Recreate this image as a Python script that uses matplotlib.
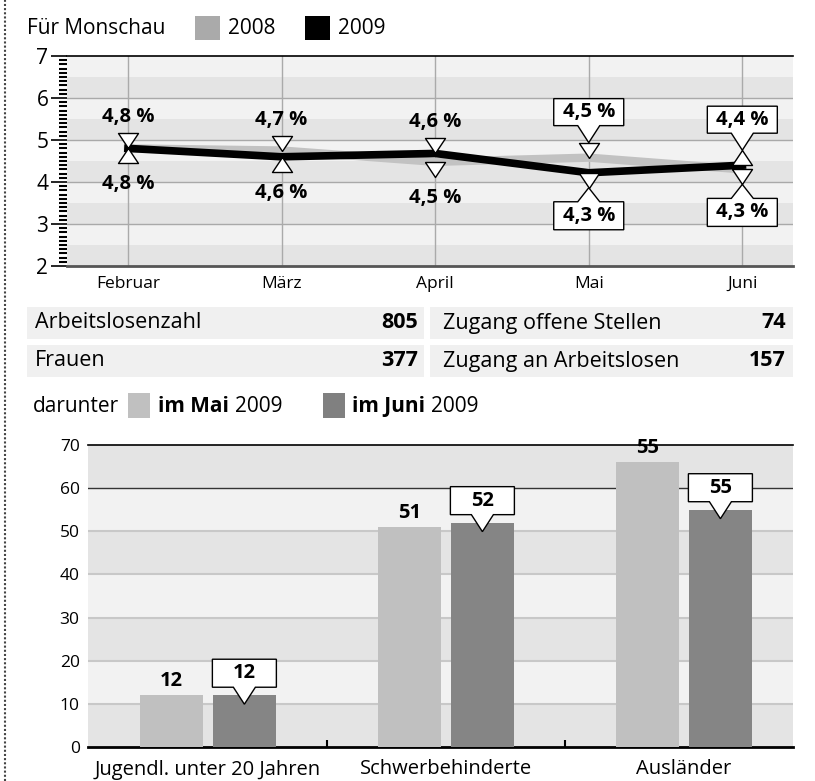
import numpy as np
import matplotlib.pyplot as plt
import matplotlib.transforms as mtransforms
from matplotlib.patches import Rectangle, Polygon
from matplotlib.lines import Line2D
from matplotlib.ticker import MultipleLocator

plt.rcParams['font.family'] = ['Open Sans', 'DejaVu Sans']

# --- data ---
months = ['Februar', 'März', 'April', 'Mai', 'Juni']
rate_2008 = [4.8, 4.75, 4.48, 4.58, 4.3]
rate_2009 = [4.8, 4.6, 4.68, 4.22, 4.4]
upper_labels = ['4,8 %', '4,7 %', '4,6 %', '4,5 %', '4,4 %']
lower_labels = ['4,8 %', '4,6 %', '4,5 %', '4,3 %', '4,3 %']
upper_shape = ['down', 'down', 'down', 'down', 'up']
lower_shape = ['up', 'up', 'down', 'down', 'down']
boxed = [False, False, False, True, True]

table_left = [('Arbeitslosenzahl', '805'), ('Frauen', '377')]
table_right = [('Zugang offene Stellen', '74'), ('Zugang an Arbeitslosen', '157')]

groups = ['Jugendl. unter 20 Jahren', 'Schwerbehinderte', 'Ausländer']
count_mai = [12, 51, 66]
count_juni = [12, 52, 55]
labels_mai = ['12', '51', '55']
labels_juni = ['12', '52', '55']

W, H = 815, 781
fig = plt.figure(figsize=(W / 100, H / 100), dpi=100)
renderer = fig.canvas.get_renderer()


def fx(x):
    return x / W


def fy(y):
    return 1 - y / H


def fbox(x0, y0, x1, y1, color):
    fig.add_artist(Rectangle((fx(x0), fy(y1)), (x1 - x0) / W, (y1 - y0) / H,
                             color=color, transform=fig.transFigure, lw=0))


def callout(ax, x, y, text, w, h, gap, tip, above=True, fs=14.5):
    s = 1 if above else -1
    e = gap * s
    f = (gap + h) * s
    verts = [(-w / 2, e), (-11, e), (0, tip * s), (11, e), (w / 2, e), (w / 2, f), (-w / 2, f)]
    tr = mtransforms.Affine2D() + mtransforms.ScaledTranslation(x, y, ax.transData)
    ax.add_patch(Polygon(verts, closed=True, fc='white', ec='black', lw=1,
                         transform=tr, zorder=6, clip_on=False))
    ax.annotate(text, (x, y), xytext=(0, (gap + h / 2) * s), textcoords='offset pixels',
                ha='center', va='center', fontsize=fs, fontweight='bold', zorder=7)


# dotted border on the left
fig.add_artist(Line2D([fx(5), fx(5)], [0, 1], ls=(0, (1, 1)), lw=1.5, color='#444444',
                      transform=fig.transFigure))

# top legend
fig.text(fx(27), fy(28), 'Für Monschau', va='center', fontsize=15)
fbox(195, 16, 220, 40, '#aaaaaa')
fig.text(fx(228), fy(28), '2008', va='center', fontsize=15)
fbox(305, 16, 330, 40, '#000000')
fig.text(fx(338), fy(28), '2009', va='center', fontsize=15)

# --- line chart ---
ax1 = fig.add_axes([fx(67), fy(266), (793 - 67) / W, (266 - 56) / H])
x = np.arange(len(months))
ax1.set_xlim(-0.397, 4.33)
ax1.set_ylim(2, 7)
for i, lo in enumerate(np.arange(2, 7, 0.5)):
    ax1.axhspan(lo, lo + 0.5, color='#e4e4e4' if i % 2 == 0 else '#f2f2f2', lw=0, zorder=0)
for v in range(3, 7):
    ax1.axhline(v, color='#a9a9a9', lw=1, zorder=1)
for xi in x:
    ax1.axvline(xi, color='#aaaaaa', lw=1, zorder=1)

ax1.plot(x, rate_2008, color='#c2c2c2', lw=6, zorder=2, solid_joinstyle='miter')
ax1.plot(x, rate_2009, color='black', lw=5.5, zorder=3, solid_joinstyle='miter')

tri = {
    ('upper', 'down'): [(0, 0), (-10, 15), (10, 15), (0, 0)],
    ('upper', 'up'): [(-10, 0), (10, 0), (0, 15), (-10, 0)],
    ('lower', 'up'): [(0, 0), (-10, -15), (10, -15), (0, 0)],
    ('lower', 'down'): [(-10, 0), (10, 0), (0, -15), (-10, 0)],
}
for i in range(len(months)):
    hi = max(rate_2008[i], rate_2009[i])
    lo = min(rate_2008[i], rate_2009[i])
    ax1.plot(x[i], hi, marker=tri[('upper', upper_shape[i])], ms=21.6, mfc='white',
             mec='black', mew=1, zorder=5, clip_on=False)
    ax1.plot(x[i], lo, marker=tri[('lower', lower_shape[i])], ms=21.6, mfc='white',
             mec='black', mew=1, zorder=5, clip_on=False)
    if boxed[i]:
        callout(ax1, x[i], hi, upper_labels[i], 70, 27, 32, 15, above=True)
        callout(ax1, x[i], lo, lower_labels[i], 70, 28, 29, 15, above=False)
    else:
        ax1.annotate(upper_labels[i], (x[i], hi), xytext=(0, 31), textcoords='offset pixels',
                     ha='center', va='center', fontsize=14.5, fontweight='bold', zorder=7)
        ax1.annotate(lower_labels[i], (x[i], lo), xytext=(0, -36), textcoords='offset pixels',
                     ha='center', va='center', fontsize=14.5, fontweight='bold', zorder=7)

ax1.set_yticks(range(2, 8))
ax1.yaxis.set_minor_locator(MultipleLocator(0.1))
ax1.tick_params(axis='y', which='major', length=11.5, width=1.2, labelsize=15, pad=2)
ax1.tick_params(axis='y', which='minor', length=5.8, width=1.5)
ax1.set_xticks(x, months)
ax1.tick_params(axis='x', length=0, labelsize=12.5, pad=7)
for side in ['left', 'right']:
    ax1.spines[side].set_visible(False)
ax1.spines['top'].set_linewidth(1.2)
ax1.spines['bottom'].set_color('#555555')
ax1.spines['bottom'].set_linewidth(2)

# --- table ---
rows = [(307, 339), (345, 377)]
for (y0, y1), (lt, lv), (rt, rv) in zip(rows, table_left, table_right):
    fbox(27, y0, 424, y1, '#f0f0f0')
    fbox(430, y0, 793, y1, '#f0f0f0')
    yc = fy((y0 + y1) / 2)
    fig.text(fx(35), yc, lt, va='center', fontsize=15.5)
    fig.text(fx(418), yc, lv, va='center', ha='right', fontsize=15.5, fontweight='bold')
    fig.text(fx(443), yc, rt, va='center', fontsize=15.5)
    fig.text(fx(786), yc, rv, va='center', ha='right', fontsize=15.5, fontweight='bold')

# --- "darunter" legend ---
yl = fy(406)
fig.text(fx(33), yl, 'darunter', va='center', fontsize=15)
fbox(128, 393, 150, 418, '#c0c0c0')
t = fig.text(fx(158), yl, 'im Mai', va='center', fontsize=15, fontweight='bold')
x_end = t.get_window_extent(renderer).x1
fig.text(x_end / W + fx(6), yl, '2009', va='center', fontsize=15)
fbox(323, 393, 345, 418, '#808080')
t = fig.text(fx(352), yl, 'im Juni', va='center', fontsize=15, fontweight='bold')
x_end = t.get_window_extent(renderer).x1
fig.text(x_end / W + fx(6), yl, '2009', va='center', fontsize=15)

# --- bar chart ---
ax2 = fig.add_axes([fx(88), fy(747), (793 - 88) / W, (747 - 445) / H])
gx = np.arange(len(groups))
ax2.set_xlim(-0.504, 2.458)
ax2.set_ylim(0, 70)
for i, lo in enumerate(range(0, 70, 10)):
    ax2.axhspan(lo, lo + 10, color='#e4e4e4' if i % 2 == 0 else '#f2f2f2', lw=0, zorder=0)
for v in range(10, 60, 10):
    ax2.axhline(v, color='#c8c8c8', lw=1.5, zorder=1)
ax2.axhline(60, color='#333333', lw=1, zorder=1)

bw = 0.265
ax2.bar(gx - 0.153, count_mai, bw, color='#c0c0c0', zorder=3)
ax2.bar(gx + 0.153, count_juni, bw, color='#858585', zorder=3)
for i in range(len(groups)):
    ax2.annotate(labels_mai[i], (gx[i] - 0.153, count_mai[i]), xytext=(0, 14),
                 textcoords='offset pixels', ha='center', va='center',
                 fontsize=14.5, fontweight='bold', zorder=7)
    callout(ax2, gx[i] + 0.153, count_juni[i], labels_juni[i], 64, 28, 8, -9, above=True)

ax2.set_yticks(range(0, 71, 10))
ax2.tick_params(axis='y', length=0, labelsize=12.5, pad=6)
ax2.set_xticks(gx, groups)
ax2.tick_params(axis='x', which='major', length=0, labelsize=14.5, pad=9)
ax2.set_xticks([0.5, 1.5], minor=True)
ax2.tick_params(axis='x', which='minor', direction='in', length=5, width=1.5)
for side in ['left', 'right']:
    ax2.spines[side].set_visible(False)
ax2.spines['top'].set_linewidth(1.2)
ax2.spines['bottom'].set_linewidth(2)

fig.savefig('out.png', dpi=100)
